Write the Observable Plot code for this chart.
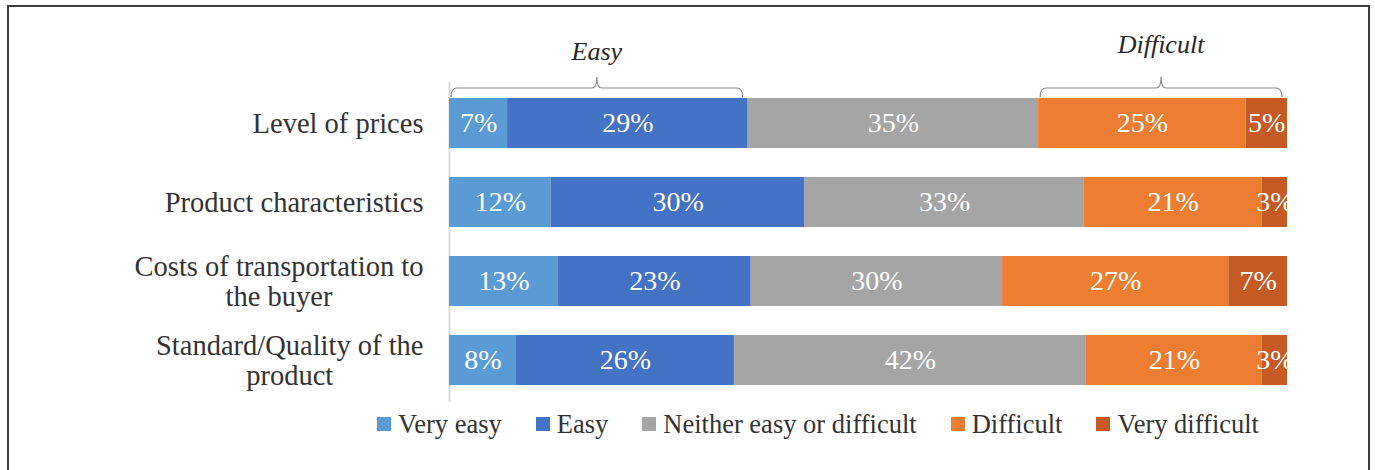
<!DOCTYPE html>
<html>
<head>
<meta charset="utf-8">
<script src="https://cdn.jsdelivr.net/npm/d3@7"></script>
<script src="https://cdn.jsdelivr.net/npm/@observablehq/plot@0.6"></script>
<style>
  html, body { margin: 0; padding: 0; background: #fff; }
  body { width: 1375px; height: 470px; position: relative; overflow: hidden; font-family: 'Liberation Serif', 'Times New Roman', serif; }
  #frame { position: absolute; left: 7px; top: 5px; width: 1359px; height: 520px; border: 2px solid #3d3d3d; pointer-events: none; }
  #chart { position: absolute; left: 0; top: 0; }
  #legend { position: absolute; left: 377px; top: 409px; display: flex; align-items: center; font-size: 26.5px; color: #333; white-space: nowrap; line-height: 30px; }
  #legend .item { display: flex; align-items: center; margin-right: 34px; }
  #legend .item:last-child { margin-right: 0; }
  #legend .sw { width: 14px; height: 14px; margin-right: 7px; }
</style>
</head>
<body>
<div id="chart"></div>
<div id="legend"></div>
<div id="frame"></div>
<script>
// ---- data ----
const categories = [
  "Level of prices",
  "Product characteristics",
  "Costs of transportation to\nthe buyer",
  "Standard/Quality of the\nproduct"
];
const levels = ["Very easy", "Easy", "Neither easy or difficult", "Difficult", "Very difficult"];
const colors = ["#5B9BD5", "#4472C4", "#A5A5A5", "#ED7D31", "#C55A24"];
const veryEasy      = [7, 12, 13, 8];
const easy          = [29, 30, 23, 26];
const neither       = [35, 33, 30, 42];
const difficult     = [25, 21, 27, 21];
const veryDifficult = [5, 3, 7, 3];
const braces = [
  {label: "Easy", from: "Very easy", to: "Easy"},
  {label: "Difficult", from: "Difficult", to: "Very difficult"}
];

// ---- table ----
const series = [veryEasy, easy, neither, difficult, veryDifficult];
const rows = [];
categories.forEach((c, i) => {
  levels.forEach((l, j) => rows.push({category: c, level: l, value: series[j][i]}));
});

// ---- measure label widths ----
const FONT = "'Liberation Serif', 'Times New Roman', serif";
const LABEL_SIZE = 28.5;
const ctx = document.createElement("canvas").getContext("2d");
ctx.font = `${LABEL_SIZE}px 'Liberation Serif'`;
const labelMarks = categories.map(c => {
  const w = d3.max(c.split("\n"), s => ctx.measureText(s).width);
  return Plot.text([c], {
    x: () => 0, y: d => d, text: d => d,
    textAnchor: "middle", dx: -(26 + w / 2),
    fontSize: LABEL_SIZE, lineHeight: 1.03, fill: "#333"
  });
});

const stackOpts = {x: "value", y: "category", z: "level", order: levels, offset: "normalize"};

const plot = Plot.plot({
  width: 1375,
  height: 405,
  marginLeft: 449,
  marginRight: 88,
  marginTop: 82,
  marginBottom: 3,
  style: {fontFamily: FONT, background: "transparent"},
  x: {domain: [0, 1], axis: null},
  y: {domain: categories, axis: null, paddingInner: 0.3625, paddingOuter: 0.1875},
  color: {domain: levels, range: colors},
  marks: [
    Plot.ruleX([0], {stroke: "#d9d9d9", strokeWidth: 2}),
    Plot.barX(rows, Plot.stackX({...stackOpts, fill: "level"})),
    Plot.text(rows, Plot.stackX({...stackOpts, text: d => d.value + "%", fill: "white", fontSize: 28})),
    ...labelMarks
  ]
});
document.getElementById("chart").appendChild(plot);

// ---- braces (from first row's stacked segments, via the x scale) ----
const xs = plot.scale("x");
const first = categories[0];
const firstRow = rows.filter(r => r.category === first);
const total = d3.sum(firstRow, r => r.value);
const cum = {}; let acc = 0;
firstRow.forEach(r => { cum[r.level] = [acc / total, (acc + r.value) / total]; acc += r.value; });
const svg = d3.select(plot);
const yTop = 97, yLine = 88, yPeak = 77;
const baselines = {"Easy": 60, "Difficult": 53};
braces.forEach(b => {
  const x1 = xs.apply(cum[b.from][0]) + 2;
  const x2 = xs.apply(cum[b.to][1]) - 5;
  const m = (x1 + x2) / 2;
  const d = `M${x1},${yTop} Q${x1},${yLine} ${x1 + 6},${yLine} L${m - 5},${yLine} Q${m},${yLine} ${m},${yPeak}` +
            ` Q${m},${yLine} ${m + 5},${yLine} L${x2 - 6},${yLine} Q${x2},${yLine} ${x2},${yTop}`;
  svg.append("path").attr("d", d).attr("fill", "none").attr("stroke", "#8c8c8c").attr("stroke-width", 1.2);
  svg.append("text").attr("x", m).attr("y", baselines[b.label]).attr("text-anchor", "middle")
    .attr("font-size", 26).attr("font-style", "italic").attr("fill", "#262626").attr("font-family", FONT)
    .text(b.label);
});

// ---- legend ----
const legend = d3.select("#legend");
levels.forEach((l, i) => {
  const it = legend.append("div").attr("class", "item");
  it.append("div").attr("class", "sw").style("background", colors[i]);
  it.append("span").text(l);
});
</script>
</body>
</html>
